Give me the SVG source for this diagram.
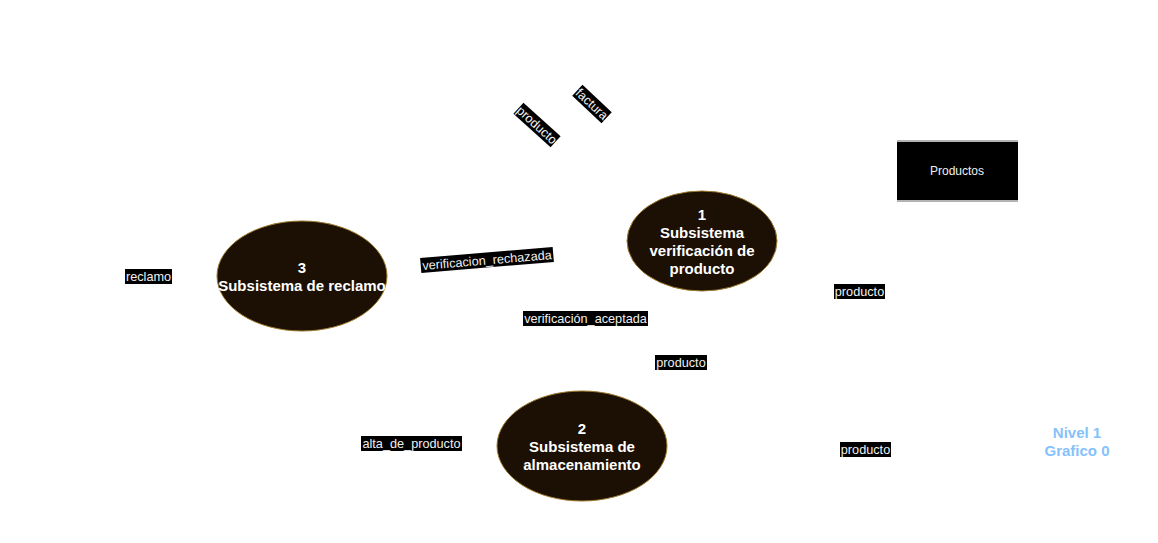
<svg xmlns="http://www.w3.org/2000/svg" width="1158" height="543" viewBox="0 0 1158 543">
<style>
.proc{fill:#1c0f03;stroke:#9c7a2c;stroke-width:1}
.ptxt{font-family:"Liberation Sans",Arial,sans-serif;font-size:15px;font-weight:bold;fill:#ffffff;text-anchor:middle}
.lbg{fill:#000000}
.ltxt{font-family:"Liberation Sans",Arial,sans-serif;font-size:12.7px;fill:#f0f0f0;text-anchor:middle}
.stxt{font-family:"Liberation Sans",Arial,sans-serif;font-size:12px;fill:#f0f0f0;text-anchor:middle}
.title{font-family:"Liberation Sans",Arial,sans-serif;font-size:15px;font-weight:bold;fill:#85c2fb;text-anchor:middle}
</style>
<rect width="1158" height="543" fill="#ffffff"/>
<g id="connectors">
<g id="lbl-producto-diag" transform="translate(537,125) rotate(42)">
<rect class="lbg" x="-25" y="-7.5" width="50" height="15"/>
<text class="ltxt" x="0" y="4.5">producto</text>
</g>
<g id="lbl-factura" transform="translate(592,104) rotate(43)">
<rect class="lbg" x="-20" y="-7.5" width="40" height="15"/>
<text class="ltxt" x="0" y="4.5">factura</text>
</g>
<g id="lbl-rechazada" transform="translate(487,260) rotate(-4.8)">
<rect class="lbg" x="-66.5" y="-7.5" width="133" height="15"/>
<text class="ltxt" x="0" y="4.5">verificacion_rechazada</text>
</g>
<g id="lbl-reclamo">
<rect class="lbg" x="125" y="269" width="47" height="15"/>
<text class="ltxt" x="148.5" y="281">reclamo</text>
</g>
<g id="lbl-aceptada">
<rect class="lbg" x="523" y="311" width="125" height="15"/>
<text class="ltxt" x="585.5" y="323">verificación_aceptada</text>
</g>
<g id="lbl-producto-mid">
<rect class="lbg" x="655" y="355" width="52" height="15"/>
<text class="ltxt" x="681" y="367">producto</text>
</g>
<g id="lbl-producto-right">
<rect class="lbg" x="834" y="284" width="51" height="15"/>
<text class="ltxt" x="859.5" y="296">producto</text>
</g>
<g id="lbl-producto-bottom">
<rect class="lbg" x="840" y="442" width="51" height="15"/>
<text class="ltxt" x="865.5" y="454">producto</text>
</g>
<g id="lbl-alta">
<rect class="lbg" x="361" y="436" width="101" height="15"/>
<text class="ltxt" x="411.5" y="448">alta_de_producto</text>
</g>
</g>
<g id="node-1">
<ellipse class="proc" cx="702" cy="241" rx="75" ry="50"/>
<text class="ptxt" x="702" y="220">1</text>
<text class="ptxt" x="702" y="238">Subsistema</text>
<text class="ptxt" x="702" y="256">verificación de</text>
<text class="ptxt" x="702" y="274">producto</text>
</g>
<g id="node-3">
<ellipse class="proc" cx="302" cy="276" rx="85" ry="55"/>
<text class="ptxt" x="302" y="273">3</text>
<text class="ptxt" x="302" y="291">Subsistema de reclamo</text>
</g>
<g id="node-2">
<ellipse class="proc" cx="582" cy="446" rx="85" ry="55"/>
<text class="ptxt" x="582" y="434">2</text>
<text class="ptxt" x="582" y="452">Subsistema de</text>
<text class="ptxt" x="582" y="470">almacenamiento</text>
</g>
<g id="store-productos">
<rect x="897" y="141" width="121" height="60" fill="#000000"/>
<line x1="897" y1="141" x2="1018" y2="141" stroke="#b3b3b3" stroke-width="2"/>
<line x1="897" y1="201" x2="1018" y2="201" stroke="#b3b3b3" stroke-width="2"/>
<text class="stxt" x="957" y="175">Productos</text>
</g>
<g id="title">
<text class="title" x="1077" y="438">Nivel 1</text>
<text class="title" x="1077" y="456">Grafico 0</text>
</g>
</svg>
